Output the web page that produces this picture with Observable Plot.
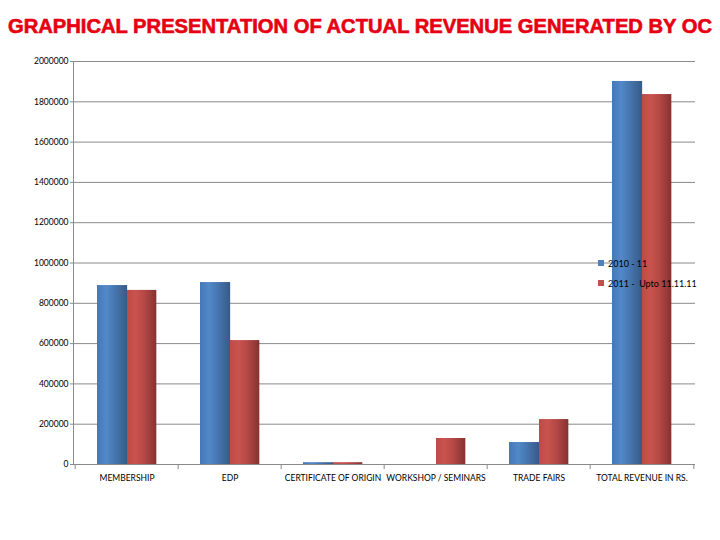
<!DOCTYPE html>
<html>
<head>
<meta charset="utf-8">
<script src="https://cdn.jsdelivr.net/npm/d3@7"></script>
<script src="https://cdn.jsdelivr.net/npm/@observablehq/plot@0.6"></script>
<style>
  html, body { margin: 0; padding: 0; background: #fff; }
  #wrap { position: relative; width: 720px; height: 540px; overflow: hidden; }
  #title { display: block; }
  #legend { position: absolute; left: 598px; top: 253px; font-family: Lato, "Liberation Sans", sans-serif; font-size: 9px; color: #000; }
  #legend .item { display: flex; align-items: center; height: 20px; white-space: pre; }
  #legend .sw { width: 6px; height: 6px; margin-right: 4px; }
</style>
</head>
<body>
<div id="wrap">
  <svg id="title" width="720" height="44">
    <text x="8" y="33" textLength="704" lengthAdjust="spacingAndGlyphs"
      font-family="'Liberation Sans', Arial, sans-serif" font-weight="bold" font-size="19.5"
      fill="#e60012" stroke="#e60012" stroke-width="0.6">GRAPHICAL PRESENTATION OF ACTUAL REVENUE GENERATED BY OC</text>
  </svg>
  <div id="chart"></div>
  <div id="legend"></div>
</div>
<script>
const categories = ["MEMBERSHIP", "EDP", "CERTIFICATE OF ORIGIN", "WORKSHOP / SEMINARS", "TRADE FAIRS", "TOTAL REVENUE IN RS."];
const seriesNames = ["2010 - 11", "2011 -  Upto 11.11.11"];
const values2010 = [888000, 903000, 9000, 0, 109000, 1901000];
const values2011 = [864000, 615000, 9000, 129000, 223000, 1836000];
const yTicks = [0, 200000, 400000, 600000, 800000, 1000000, 1200000, 1400000, 1600000, 1800000, 2000000];

const table = [];
categories.forEach((c, i) => {
  table.push({cat: c, series: seriesNames[0], value: values2010[i]});
  table.push({cat: c, series: seriesNames[1], value: values2011[i]});
});

const fills = ["url(#gradBlue)", "url(#gradRed)"];
const swatches = ["#4F81BD", "#C0504D"];
const grid = "#8a8a8a";

const W = 720, mL = 73, mR = 25;
const bw = (W - mL - mR) / categories.length;
const outer = 22, barW = 30;

const chart = Plot.plot({
  width: W,
  height: 496,
  marginTop: 17,
  marginBottom: 76,
  marginLeft: mL,
  marginRight: mR,
  style: {fontFamily: "Lato, 'Liberation Sans', sans-serif", fontSize: "9px", color: "#000", background: "transparent"},
  x: {type: "band", domain: categories, padding: 0, label: null},
  y: {domain: [0, 2000000], label: null},
  color: {domain: seriesNames, range: fills},
  marks: [
    Plot.ruleY(yTicks, {stroke: grid, strokeWidth: 1}),
    Plot.ruleX(categories, {x: d => d, y1: 0, y2: -25000, dx: -bw / 2, stroke: grid}),
    Plot.ruleX([categories[categories.length - 1]], {x: d => d, y1: 0, y2: -25000, dx: bw / 2, stroke: grid}),
    Plot.frame({anchor: "left", stroke: grid}),
    Plot.barY(table.filter(d => d.series === seriesNames[0]), {x: "cat", y: "value", fill: "series", insetLeft: outer, insetRight: bw - outer - barW - 0.8}),
    Plot.barY(table.filter(d => d.series === seriesNames[1]), {x: "cat", y: "value", fill: "series", insetLeft: outer + barW, insetRight: bw - outer - 2 * barW}),
    Plot.axisY({ticks: yTicks, tickFormat: d => String(d), tickSize: 3, tickPadding: 2, stroke: grid, fontSize: 8.5}),
    Plot.axisX({tickSize: 0, tickPadding: 10, fontSize: 8.5})
  ]
});

const svg = d3.select(chart);
const defs = svg.insert("defs", ":first-child");
function grad(id, stops) {
  const g = defs.append("linearGradient").attr("id", id).attr("x1", 0).attr("x2", 1).attr("y1", 0).attr("y2", 0);
  stops.forEach(([o, c]) => g.append("stop").attr("offset", o).attr("stop-color", c));
}
grad("gradBlue", [[0, "#4677B6"], [0.3, "#5189C9"], [0.6, "#4675AE"], [1, "#365A87"]]);
grad("gradRed", [[0, "#BE4A47"], [0.3, "#C9534F"], [0.6, "#B34845"], [1, "#853231"]]);

document.getElementById("chart").appendChild(chart);

const legend = d3.select("#legend");
seriesNames.forEach((s, i) => {
  const it = legend.append("div").attr("class", "item");
  it.append("div").attr("class", "sw").style("background", swatches[i]);
  it.append("span").text(s);
});
</script>
</body>
</html>
